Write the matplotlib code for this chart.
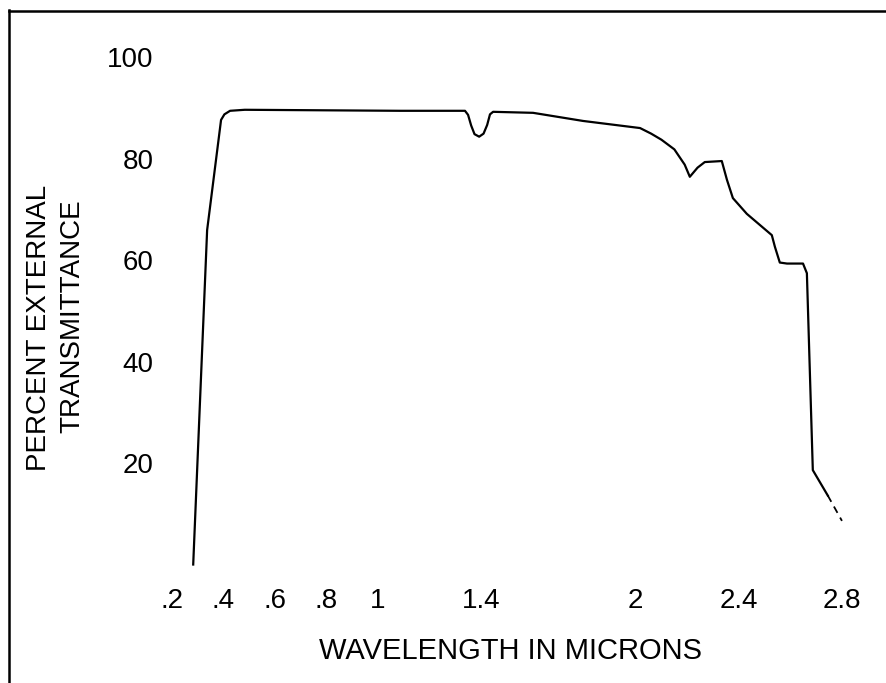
import numpy as np
import matplotlib
matplotlib.use('Agg')
import matplotlib.pyplot as plt
from matplotlib.lines import Line2D

plt.rcParams['font.family'] = ['Liberation Sans', 'DejaVu Sans']

# transmittance curve (wavelength in microns, percent)
wavelength = [0.284, 0.338, 0.392, 0.405, 0.427, 0.484, 1.086, 1.338, 1.350,
              1.362, 1.375, 1.393, 1.410, 1.424, 1.435, 1.447, 1.602, 1.796,
              2.017, 2.060, 2.100, 2.150, 2.190, 2.210, 2.240, 2.268, 2.334,
              2.354, 2.377, 2.431, 2.528, 2.540, 2.559, 2.587, 2.649, 2.664,
              2.687, 2.745]
transmittance = [0.0, 65.9, 87.6, 88.7, 89.4, 89.6, 89.4, 89.4, 88.6,
                 86.5, 84.8, 84.3, 84.9, 86.6, 88.7, 89.2, 89.0, 87.4,
                 86.0, 84.9, 83.7, 81.8, 78.8, 76.4, 78.2, 79.3, 79.5,
                 75.8, 72.2, 69.1, 64.9, 62.6, 59.5, 59.3, 59.3, 57.4,
                 18.6, 13.6]
# broken tail of the trace
tail_wl = [2.745, 2.800]
tail_t = [13.6, 8.6]

xticks = [0.2, 0.4, 0.6, 0.8, 1.0, 1.4, 2.0, 2.4, 2.8]
xticklabels = ['.2', '.4', '.6', '.8', '1', '1.4', '2', '2.4', '2.8']
yticks = [20, 40, 60, 80, 100]

W, H = 887, 683
fig = plt.figure(figsize=(W / 100, H / 100), dpi=100)
fig.patch.set_facecolor('white')

# axes box in pixels: left 170, right 860, top 40, bottom 580
ax = fig.add_axes([170 / W, 1 - 580 / H, 690 / W, 540 / H])
ax.plot(wavelength, transmittance, color='black', lw=1.6,
        solid_joinstyle='round')
ax.plot(tail_wl, tail_t, color='black', lw=1.3, dashes=(4, 3))

ax.set_xlim(0.194, 2.870)
ax.set_ylim(-3.05, 103.35)
ax.set_xticks(xticks)
ax.set_xticklabels(xticklabels)
ax.set_yticks(yticks)
ax.tick_params(axis='both', length=0, labelsize=20)
ax.tick_params(axis='x', pad=6)
ax.tick_params(axis='y', pad=12)
for s in ax.spines.values():
    s.set_visible(False)

# axis titles
fig.text(511 / W, 1 - 651 / H, 'WAVELENGTH IN MICRONS', fontsize=21,
         ha='center', va='center')
fig.text(39 / W, 1 - 328 / H, 'PERCENT EXTERNAL', fontsize=20,
         rotation=90, ha='center', va='center')
fig.text(72 / W, 1 - 316 / H, 'TRANSMITTANCE', fontsize=20,
         rotation=90, ha='center', va='center')

# scan frame (left and top edges)
fig.add_artist(Line2D([9 / W, 9 / W], [0, 1 - 10 / H], color='black',
                      lw=1.8, transform=fig.transFigure))
fig.add_artist(Line2D([9 / W, 1], [1 - 11 / H, 1 - 11 / H], color='black',
                      lw=1.8, transform=fig.transFigure))

fig.savefig('out.png', dpi=100)
